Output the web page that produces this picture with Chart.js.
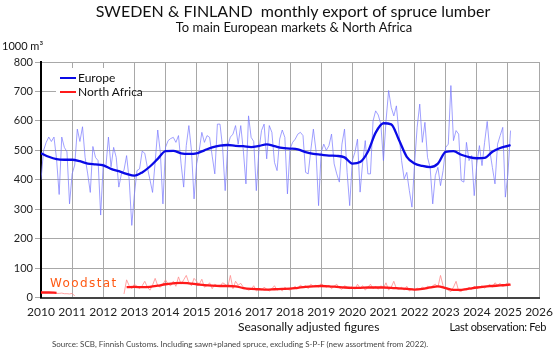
<!DOCTYPE html>
<html><head><meta charset="utf-8">
<script src="https://cdn.jsdelivr.net/npm/chart.js@4"></script>
<style>
html,body{margin:0;padding:0;background:#fff;}
#wrap{position:relative;width:560px;height:356px;font-family:Lato,"Open Sans",sans-serif;overflow:hidden;}
canvas{position:absolute;left:0;top:0;}
.t{position:absolute;white-space:nowrap;color:#111;line-height:1;}
#legend{position:absolute;left:56px;top:68px;width:78px;height:32px;background:#fff;}
.li{position:absolute;left:4px;font-size:12px;color:#111;line-height:1;white-space:nowrap;}
.sw{display:inline-block;width:16px;height:2px;vertical-align:middle;margin-right:2px;position:relative;top:-1px;}
</style></head><body>
<div id="wrap">
<canvas id="c" width="560" height="356"></canvas>
<div class="t" style="left:0;width:586px;text-align:center;top:3px;font-size:16px;">SWEDEN &amp; FINLAND&nbsp; monthly export of spruce lumber</div>
<div class="t" style="left:0;width:588px;text-align:center;top:21px;font-size:13px;">To main European markets &amp; North Africa</div>
<div class="t" style="left:2px;top:40px;font-size:11px;">1000 m³</div>
<div id="legend">
  <div class="li" style="top:4px;"><span class="sw" style="background:#0a0ae6"></span>Europe</div>
  <div class="li" style="top:18px;"><span class="sw" style="background:#ff1a1a"></span>North Africa</div>
</div>
<div class="t" style="left:50px;top:277px;font-family:'DejaVu Sans',sans-serif;font-size:12px;letter-spacing:1.4px;color:#ff5a14;">Woodstat</div>
<div class="t" style="left:238px;top:321px;font-size:12px;">Seasonally adjusted figures</div>
<div class="t" style="right:14px;top:321px;font-size:11px;letter-spacing:-0.3px;">Last observation: Feb</div>
<div class="t" style="left:52px;top:340px;font-size:8px;color:#444;">Source: SCB, Finnish Customs. Including sawn+planed spruce, excluding S-P-F (new assortment from 2022).</div>
</div>
<script>
// Monthly data starts January 2010; last observation February 2025
const startYear = 2010;
const xTicks = [2010,2011,2012,2013,2014,2015,2016,2017,2018,2019,2020,2021,2022,2023,2024,2025,2026];
const yTicks = [0,100,200,300,400,500,600,700,800];

const europeMonthly = [
 400,500,527,545,530,545,470,350,545,510,495,318,
 420,450,572,530,580,476,420,357,513,476,465,280,
 455,444,545,444,510,476,375,420,433,482,400,245,
 350,431,437,497,490,442,400,357,460,569,493,318,
 510,533,540,544,527,550,454,375,516,584,499,335,
 454,500,561,527,550,544,480,420,589,589,510,363,
 516,545,555,584,521,584,499,386,617,544,530,363,
 499,567,589,471,584,561,459,431,538,569,544,352,
 505,527,538,555,561,550,425,420,500,572,499,312,
 493,521,500,516,555,454,420,392,521,572,425,312,
 465,493,538,358,459,533,420,420,600,634,620,589,
 465,600,703,646,617,651,555,465,403,425,363,307,
 454,578,657,527,595,476,442,318,414,442,380,431,
 510,521,720,533,567,555,397,392,527,465,482,346,
 454,516,448,527,598,499,442,386,521,550,578,341,
 420,567
];
const northAfricaMonthly = [
 18,17,16,17,16,15,14,14,15,13,13,12,
 14,5,null,null,null,null,null,null,null,null,null,null,
 null,null,null,null,null,null,null,null,12,60,40,30,
 45,38,30,40,55,35,25,42,65,40,35,45,
 60,45,40,55,38,70,45,60,75,50,40,65,
 55,45,62,35,40,50,30,45,40,38,50,45,
 35,75,30,55,42,48,35,30,25,28,40,22,
 30,25,35,28,22,30,40,25,30,22,35,28,
 25,32,38,30,42,35,40,30,45,38,42,35,
 48,40,35,42,30,38,45,32,28,40,35,30,
 38,28,45,32,40,25,35,45,30,38,28,40,
 32,50,25,35,55,30,28,35,25,38,22,30,
 25,32,28,35,30,38,32,40,45,35,75,40,
 30,25,20,35,55,22,20,30,25,35,28,38,
 30,35,40,32,38,45,35,50,42,48,38,45,
 50,42
];
// Trend values, read quarterly (Jan/Apr/Jul/Oct) plus the last month (Feb 2025)
const trendMonthIndex = [0,3,6,9,12,15,18,21,24,27,30,33,36,39,42,45,48,51,54,57,60,63,66,69,72,75,78,81,84,87,90,93,96,99,102,105,108,111,114,117,120,123,126,129,132,135,138,141,144,147,150,153,156,159,162,165,168,171,174,177,180,181];
const europeTrend = [
 490,478,470,468, 468,463,455,452, 449,437,429,420,
 414,425,445,471, 497,498,490,488, 490,500,510,516,
 518,515,514,511, 515,520,514,508, 506,503,494,488,
 485,482,481,476, 455,460,495,560, 592,588,535,478,
 455,447,443,455, 495,497,485,477, 473,474,495,508,
 515,518
];
const northAfricaTrend = [
 17,17,16,null, null,null,null,null, null,null,null,35,
 36,35,36,40, 45,48,50,48, 45,42,40,39,
 39,38,32,29, 28,27,28,29, 30,33,36,38,
 39,38,36,34, 33,33,34,34, 34,33,31,29,
 27,29,34,38, 32,26,26,30, 34,37,39,41,
 43,44
];

const monthX = i => startYear + i / 12;
const toPts = arr => arr.map((v, i) => ({x: monthX(i), y: v}));
const toTrendPts = arr => arr.map((v, k) => ({x: monthX(trendMonthIndex[k]), y: v}));

new Chart(document.getElementById('c'), {
  type: 'line',
  data: {
    datasets: [
      {label:'Europe trend', data: toTrendPts(europeTrend), borderColor:'#0a0ae6', borderWidth:2.3, pointRadius:0, cubicInterpolationMode:'monotone', order:1},
      {label:'North Africa trend', data: toTrendPts(northAfricaTrend), borderColor:'#ff1a1a', borderWidth:2.3, pointRadius:0, cubicInterpolationMode:'monotone', spanGaps:false, order:2},
      {label:'Europe', data: toPts(europeMonthly), borderColor:'rgba(120,120,255,0.7)', borderWidth:1, pointRadius:0, tension:0, order:3},
      {label:'North Africa', data: toPts(northAfricaMonthly), borderColor:'rgba(255,140,140,0.8)', borderWidth:1, pointRadius:0, tension:0, spanGaps:false, order:4}
    ]
  },
  options: {
    responsive:false, animation:false,
    layout:{padding:{left:0,right:15,top:62,bottom:0}},
    plugins:{legend:{display:false}, tooltip:{enabled:false}, title:{display:false}},
    scales:{
      x:{type:'linear', min:2010, max:2026,
         afterBuildTicks: s => { s.ticks = xTicks.map(v => ({value:v})); },
         afterFit: s => { s.height = 58.5; },
         ticks:{callback: v => String(v), font:{family:'Lato', size:12}, color:'#222', padding:7, maxRotation:0, autoSkip:false},
         grid:{color:'#a8a8a8', lineWidth:1, drawTicks:false},
         border:{color:'#444', width:2}},
      y:{min:0, max:800,
         afterBuildTicks: s => { s.ticks = yTicks.map(v => ({value:v})); },
         afterFit: s => { s.width = 41; },
         ticks:{font:{family:'Lato', size:11}, color:'#222', padding:2},
         grid:{color:'#a8a8a8', lineWidth:1, tickLength:6},
         border:{color:'#000', width:2}}
    }
  }
});
</script>
</body></html>
